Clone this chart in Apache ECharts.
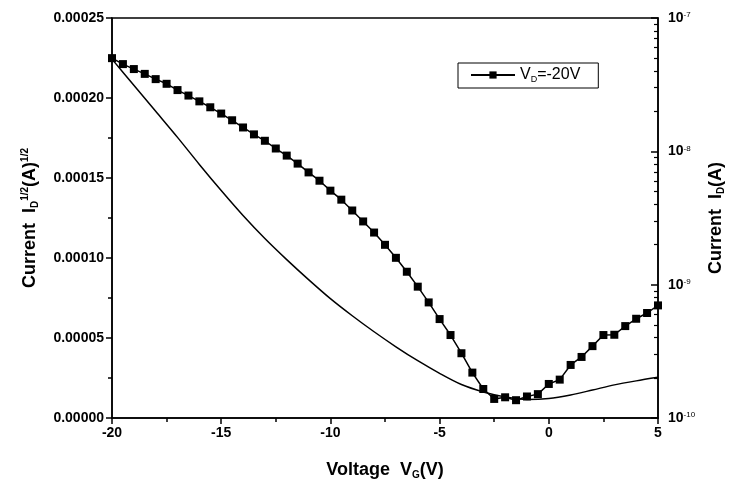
<!DOCTYPE html>
<html>
<head>
<meta charset="utf-8">
<script src="https://cdn.jsdelivr.net/npm/echarts@6/dist/echarts.min.js"></script>
<style>
  html, body { margin: 0; padding: 0; background: #fff; }
  #chart { width: 729px; height: 486px; }
</style>
</head>
<body>
<div id="chart"></div>
<script>
// gate voltage steps for the marker curve (0.5 V) and the solid curve (1 V)
var vgMarkers = [
  -20, -19.5, -19, -18.5, -18, -17.5, -17, -16.5, -16, -15.5,
  -15, -14.5, -14, -13.5, -13, -12.5, -12, -11.5, -11, -10.5,
  -10, -9.5, -9, -8.5, -8, -7.5, -7, -6.5, -6, -5.5,
  -5, -4.5, -4, -3.5, -3, -2.5, -2, -1.5, -1, -0.5,
  0, 0.5, 1, 1.5, 2, 2.5, 3, 3.5, 4, 4.5, 5
]
// I_D (A), log axis on the right
var idLog = [
  5.0e-8, 4.51e-8, 4.14e-8, 3.81e-8, 3.48e-8, 3.21e-8, 2.88e-8, 2.62e-8, 2.37e-8, 2.14e-8,
  1.92e-8, 1.71e-8, 1.51e-8, 1.34e-8, 1.20e-8, 1.05e-8, 9.29e-9, 8.09e-9, 6.95e-9, 6.02e-9,
  5.07e-9, 4.34e-9, 3.60e-9, 2.98e-9, 2.46e-9, 1.99e-9, 1.59e-9, 1.25e-9, 9.66e-10, 7.36e-10,
  5.52e-10, 4.19e-10, 3.06e-10, 2.19e-10, 1.65e-10, 1.39e-10, 1.43e-10, 1.36e-10, 1.45e-10, 1.51e-10,
  1.80e-10, 1.94e-10, 2.50e-10, 2.87e-10, 3.46e-10, 4.19e-10, 4.21e-10, 4.89e-10, 5.55e-10, 6.13e-10, 6.99e-10
]
var vgLine = [
  -20, -19, -18, -17, -16, -15, -14, -13, -12, -11, -10, -9, -8,
  -7, -6, -5, -4, -3, -2, -1, 0, 1, 2, 3, 4, 5
]
// I_D^1/2 (A^1/2), linear axis on the left
var idSqrt = [
  2.243e-4, 2.080e-4, 1.917e-4, 1.754e-4, 1.585e-4, 1.422e-4, 1.266e-4, 1.122e-4, 0.990e-4, 0.865e-4,
  0.746e-4, 0.639e-4, 0.539e-4, 0.445e-4, 0.358e-4, 0.279e-4, 0.209e-4, 0.163e-4, 0.132e-4, 0.116e-4,
  0.122e-4, 0.144e-4, 0.175e-4, 0.207e-4, 0.232e-4, 0.254e-4
]
var logMinor = [
  2e-10, 3e-10, 4e-10, 5e-10, 6e-10, 7e-10, 8e-10, 9e-10,
  2e-9, 3e-9, 4e-9, 5e-9, 6e-9, 7e-9, 8e-9, 9e-9,
  2e-8, 3e-8, 4e-8, 5e-8, 6e-8, 7e-8, 8e-8, 9e-8
]

var font = 'Liberation Sans'
var myChart = echarts.init(document.getElementById('chart'))

function pairs (xs, ys) {
  var out = []
  for (var i = 0; i < xs.length; i++) out.push([xs[i], ys[i]])
  return out
}

var boldName = { fontFamily: font, fontSize: 18, fontWeight: 'bold', color: '#000', lineHeight: 20 }
var boldSub = { fontFamily: font, fontSize: 10, fontWeight: 'bold', color: '#000', verticalAlign: 'bottom', lineHeight: 8 }
var boldSup = { fontFamily: font, fontSize: 10, fontWeight: 'bold', color: '#000', verticalAlign: 'top', lineHeight: 8 }

var option = {
  backgroundColor: '#fff',
  animation: false,
  textStyle: { fontFamily: font },
  grid: {
    left: 112, right: 71, top: 18, bottom: 68,
    outerBoundsMode: 'none',
    show: true, borderColor: '#000', borderWidth: 1.5, backgroundColor: 'transparent'
  },
  legend: {
    left: 458, top: 63,
    data: ['vd'],
    borderColor: '#000', borderWidth: 1,
    padding: [4, 18, 4, 12],
    itemWidth: 44, itemHeight: 9,
    formatter: function () { return '{n|V}{s|D}{n|=-20V}' },
    textStyle: {
      rich: {
        n: { fontFamily: font, fontSize: 16, color: '#000', lineHeight: 18 },
        s: { fontFamily: font, fontSize: 9, color: '#000', verticalAlign: 'bottom', lineHeight: 8 }
      }
    }
  },
  xAxis: {
    type: 'value', min: -20, max: 5, interval: 5,
    name: '{n|Voltage  V}{s|G}{n|(V)}',
    nameLocation: 'middle', nameGap: 42,
    nameTextStyle: { rich: { n: boldName, s: boldSub } },
    axisLine: { lineStyle: { color: '#000', width: 1.5 } },
    axisTick: { length: 6, lineStyle: { color: '#000', width: 1.5 } },
    minorTick: { show: true, splitNumber: 2, length: 4, lineStyle: { color: '#000', width: 1.5 } },
    splitLine: { show: false },
    axisLabel: { color: '#000', fontSize: 14, fontWeight: 'bold', margin: 8 }
  },
  yAxis: [
    {
      type: 'value', min: 0, max: 0.00025, interval: 0.00005, position: 'left',
      name: '{n|Current  I}{s|D}{p|1/2}{n|(A)}{p|1/2}',
      nameLocation: 'middle', nameGap: 72, nameRotate: 90,
      nameTextStyle: { rich: { n: boldName, s: boldSub, p: boldSup } },
      axisLine: { show: true, onZero: false, lineStyle: { color: '#000', width: 1.5 } },
      axisTick: { show: true, length: 6, lineStyle: { color: '#000', width: 1.5 } },
      minorTick: { show: true, splitNumber: 2, length: 4, lineStyle: { color: '#000', width: 1.5 } },
      splitLine: { show: false },
      axisLabel: {
        color: '#000', fontSize: 14, fontWeight: 'bold', margin: 8,
        formatter: function (v) { return v.toFixed(5) }
      }
    },
    {
      type: 'log', logBase: 10, min: 1e-10, max: 1e-7, position: 'right',
      name: '{n|Current  I}{s|D}{n|(A)}',
      nameLocation: 'middle', nameGap: 48, nameRotate: 90,
      nameTextStyle: { rich: { n: boldName, s: boldSub } },
      axisLine: { show: true, onZero: false, lineStyle: { color: '#000', width: 1.5 } },
      axisTick: { show: true, inside: true, length: 7, lineStyle: { color: '#000', width: 1.5 } },
      splitLine: { show: false },
      axisLabel: {
        margin: 10,
        formatter: function (v) {
          var e = Math.round(Math.log10(v))
          return '{b|10}{e|' + e + '}'
        },
        rich: {
          b: { fontFamily: font, fontSize: 14, fontWeight: 'bold', color: '#000', lineHeight: 14 },
          e: { fontFamily: font, fontSize: 8, color: '#000', verticalAlign: 'top', lineHeight: 8 }
        }
      }
    },
    {
      // minor log ticks only
      type: 'log', logBase: 10, min: 1e-10, max: 1e-7, position: 'right',
      axisLine: { show: false, onZero: false },
      axisTick: { show: true, inside: true, length: 4, customValues: logMinor, lineStyle: { color: '#000', width: 1.2 } },
      axisLabel: { show: false },
      splitLine: { show: false }
    }
  ],
  series: [
    {
      name: 'vd', type: 'line', yAxisIndex: 1,
      data: pairs(vgMarkers, idLog),
      symbol: 'rect', symbolSize: 8,
      itemStyle: { color: '#000' },
      lineStyle: { color: '#000', width: 1.5 }
    },
    {
      name: 'sqrt', type: 'line', yAxisIndex: 0,
      data: pairs(vgLine, idSqrt),
      smooth: 0.3, showSymbol: false,
      lineStyle: { color: '#000', width: 1.5 }
    }
  ]
}

myChart.setOption(option)
</script>
</body>
</html>
